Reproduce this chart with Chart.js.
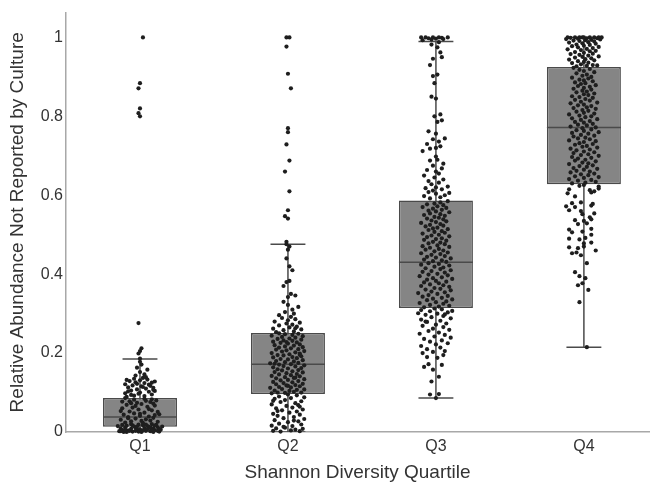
<!DOCTYPE html>
<html>
<head>
<meta charset="utf-8">
<script src="https://cdn.jsdelivr.net/npm/chart.js@4"></script>
<style>
  html, body { margin: 0; padding: 0; background: #fff; }
  #wrap { width: 653px; height: 488px; position: relative; }
</style>
</head>
<body>
<div id="wrap"><canvas id="chart"></canvas></div>
<script>
// categorias e estatisticas das caixas
const categories = ['Q1', 'Q2', 'Q3', 'Q4'];
const boxLower = [0.013, 0.096, 0.314, 0.628];
const boxUpper = [0.086, 0.251, 0.587, 0.925];
const medians = [0.038, 0.172, 0.430, 0.772];
const whiskerLow = [0, 0, 0.086, 0.215];
const whiskerHigh = [0.185, 0.476, 0.99, 1.0];
const yTickValues = [0, 0.2, 0.4, 0.6, 0.8, 1];

// pontos: [deslocamento horizontal (jitter), valor]
const q1Points = [
  [-0.14,0.002],[-0.11,0.0],[-0.08,0.004],[-0.05,0.001],[-0.02,0.006],[0.01,0.0],[0.04,0.003],[0.07,0.002],[0.1,0.005],[0.13,0.001],
  [-0.13,0.009],[-0.1,0.012],[-0.06,0.008],[-0.03,0.011],[0.0,0.007],[0.03,0.01],[0.06,0.013],[0.09,0.009],[0.12,0.012],[0.14,0.006],
  [-0.15,0.015],[-0.12,0.018],[-0.09,0.016],[-0.04,0.014],[-0.01,0.019],[0.02,0.017],[0.05,0.015],[0.08,0.02],[0.11,0.018],[0.15,0.014],
  [-0.07,0.003],[0.0,0.002],[0.05,0.007],[-0.12,0.005],[0.09,0.0],[-0.02,0.013],[0.12,0.003],[-0.09,0.0],[0.02,0.004],[-0.05,0.017],
  [0.07,0.011],[-0.13,0.002],[0.1,0.016],[-0.06,0.02],[0.13,0.008],[-0.01,0.001],[0.04,0.019],[-0.1,0.006],[0.08,0.005],[-0.03,0.003],
  [-0.1,0.024],[-0.06,0.027],[0.02,0.023],[0.07,0.029],[0.12,0.026],[-0.13,0.031],[-0.03,0.034],[0.04,0.032],[0.09,0.036],[-0.08,0.038],
  [0.0,0.041],[0.06,0.039],[-0.11,0.044],[-0.04,0.047],[0.1,0.043],[0.03,0.049],[-0.07,0.052],[0.08,0.055],[-0.01,0.057],[0.12,0.051],
  [-0.12,0.06],[-0.05,0.062],[0.05,0.064],[0.1,0.067],[-0.09,0.069],[0.01,0.071],[-0.02,0.074],[0.07,0.076],[-0.07,0.078],[0.11,0.08],
  [-0.04,0.082],[0.03,0.084],[-0.1,0.086],[0.06,0.058],[-0.13,0.053],[0.13,0.045],[-0.08,0.035],[0.01,0.028],[0.09,0.072],[-0.03,0.066],
  [-0.12,0.077],[0.04,0.079],[0.0,0.046],[-0.06,0.073],[0.08,0.083],
  [-0.09,0.089],[-0.04,0.092],[0.03,0.091],[0.08,0.095],[-0.1,0.098],[0.0,0.1],[0.06,0.102],[-0.06,0.105],[0.1,0.104],[-0.02,0.108],
  [0.04,0.11],[-0.08,0.113],[0.09,0.112],[0.01,0.116],[-0.05,0.118],[0.06,0.12],[-0.1,0.121],[0.03,0.124],[-0.03,0.126],[0.08,0.125],
  [-0.07,0.129],[0.0,0.131],[0.05,0.133],[-0.04,0.135],[0.02,0.137],[-0.09,0.132],[0.1,0.128],[-0.01,0.097],[0.07,0.117],[-0.06,0.094],
  [0.04,0.139],[-0.02,0.122],[0.09,0.107],[-0.08,0.103],[0.02,0.114],
  [-0.03,0.143],[0.03,0.146],[0.0,0.152],[0.05,0.158],[-0.02,0.163],[0.01,0.171],[0.0,0.178],[0.0,0.186],
  [-0.01,0.199],[0.0,0.205],[0.01,0.212],[-0.01,0.276],[0.0,0.8],[-0.01,0.808],[0.0,0.82],[-0.01,0.871],[0.0,0.884],[0.02,1.0]
];

const q2Points = [
  [-0.1,0.003],[-0.05,0.001],[0.02,0.004],[0.08,0.002],[-0.08,0.009],[0.05,0.006],[0.1,0.008],[-0.02,0.011],[-0.11,0.016],[0.03,0.015],
  [0.09,0.019],[-0.06,0.021],[0.0,0.025],[0.07,0.027],[-0.09,0.03],[0.11,0.033],[-0.03,0.035],[0.04,0.038],[-0.07,0.041],[0.08,0.044],
  [-0.1,0.046],[0.01,0.049],[0.06,0.052],[-0.04,0.055],[0.1,0.057],[-0.08,0.06],[0.03,0.062],[-0.01,0.066],[0.07,0.068],[-0.11,0.07],
  [0.05,0.073],[-0.05,0.076],[0.09,0.078],[-0.02,0.081],[-0.09,0.084],[0.02,0.086],[0.11,0.088],[-0.06,0.09],[0.06,0.093],[0.0,0.095],
  [-0.03,0.013],[0.04,0.029],[-0.07,0.053],[0.08,0.064],[-0.1,0.079],
  [-0.11,0.098],[-0.07,0.1],[-0.02,0.099],[0.04,0.102],[0.09,0.1],[-0.09,0.105],[0.01,0.104],[0.06,0.107],[-0.04,0.109],[0.11,0.108],
  [-0.12,0.112],[-0.06,0.114],[0.02,0.113],[0.08,0.116],[-0.01,0.118],[0.05,0.119],[-0.08,0.121],[0.1,0.122],[-0.03,0.124],[0.03,0.126],
  [-0.1,0.127],[0.07,0.129],[-0.05,0.131],[0.0,0.132],[0.11,0.134],[-0.08,0.136],[0.04,0.137],[-0.02,0.139],[0.08,0.141],[-0.11,0.142],
  [0.02,0.144],[-0.06,0.146],[0.06,0.147],[-0.01,0.149],[0.1,0.151],[-0.09,0.152],[0.03,0.154],[-0.04,0.156],[0.07,0.157],[-0.07,0.159],
  [0.0,0.161],[0.09,0.162],[-0.1,0.164],[0.05,0.166],[-0.03,0.167],[0.11,0.169],[-0.06,0.171],[0.02,0.172],[-0.12,0.174],[0.07,0.175],
  [-0.02,0.177],[0.04,0.179],[-0.08,0.18],[0.1,0.182],[0.0,0.184],[-0.05,0.185],[0.06,0.187],[-0.1,0.189],[0.03,0.19],[0.09,0.192],
  [-0.03,0.194],[-0.07,0.195],[0.01,0.197],[0.08,0.199],[-0.11,0.2],[0.05,0.202],[-0.04,0.204],[0.11,0.205],[-0.01,0.207],[-0.08,0.209],
  [0.07,0.21],[0.02,0.212],[-0.06,0.214],[0.1,0.215],[-0.02,0.217],[0.04,0.219],[-0.09,0.22],[0.08,0.222],[0.0,0.224],[-0.05,0.226],
  [0.06,0.227],[-0.1,0.229],[0.03,0.231],[-0.03,0.232],[0.09,0.234],[-0.07,0.236],[0.01,0.237],[0.05,0.239],[-0.04,0.241],[0.1,0.243],
  [-0.11,0.244],[0.03,0.246],[-0.02,0.248],[0.07,0.249],[-0.06,0.25],[0.0,0.117],[0.05,0.138],[-0.09,0.173],[0.08,0.196],[-0.01,0.228],
  [-0.08,0.253],[0.04,0.255],[-0.03,0.258],[0.09,0.26],[-0.1,0.262],[0.01,0.265],[0.06,0.267],[-0.06,0.27],[0.03,0.272],[-0.01,0.275],
  [0.08,0.277],[-0.09,0.28],[0.0,0.283],[0.05,0.286],[-0.04,0.289],[0.02,0.292],[-0.06,0.296],[0.04,0.3],[-0.02,0.304],[0.03,0.31],
  [0.07,0.317],[0.0,0.322],[-0.03,0.33],[0.05,0.263],
  [0.0,0.342],[0.05,0.346],[0.02,0.35],[-0.03,0.37],[-0.01,0.38],[0.01,0.383],[0.03,0.41],[0.01,0.42],[-0.01,0.44],[0.0,0.462],
  [0.01,0.47],[-0.01,0.476],
  [-0.01,0.482],[0.0,0.541],[-0.02,0.547],[0.0,0.562],[0.01,0.61],[-0.02,0.66],[0.01,0.688],[-0.01,0.729],[0.0,0.76],[0.0,0.77],
  [0.02,0.871],[0.0,0.908],[-0.01,0.977],[-0.01,1.0],[0.01,1.0]
];

const q3Points = [
  [0.0,0.086],[-0.04,0.095],[0.02,0.096],[-0.03,0.128],[-0.08,0.165],[-0.02,0.158],[0.04,0.17],[-0.05,0.172],[0.02,0.14],[0.01,0.188],
  [-0.06,0.19],[0.05,0.195],
  [-0.09,0.2],[-0.02,0.203],[0.06,0.205],[-0.06,0.21],[0.03,0.214],[-0.1,0.218],[0.0,0.222],[0.08,0.225],[-0.04,0.229],[0.04,0.232],
  [-0.08,0.236],[0.1,0.239],[-0.01,0.242],[0.06,0.246],[-0.11,0.249],[0.02,0.252],[-0.05,0.256],[0.09,0.259],[-0.02,0.262],[0.05,0.266],
  [-0.09,0.269],[0.0,0.272],[0.07,0.275],[-0.06,0.279],[0.03,0.282],[-0.1,0.285],[0.1,0.288],[-0.03,0.291],[0.05,0.294],[-0.07,0.297],
  [0.01,0.3],[0.08,0.303],[-0.04,0.306],[-0.1,0.309],[0.04,0.311],[-0.01,0.313],[0.11,0.307],[-0.12,0.301],[0.06,0.298],[-0.07,0.28],
  [-0.08,0.316],[0.02,0.318],[0.09,0.32],[-0.04,0.322],[0.05,0.325],[-0.11,0.327],[0.0,0.329],[0.07,0.331],[-0.06,0.334],[0.11,0.336],
  [-0.02,0.338],[0.04,0.34],[-0.09,0.343],[0.08,0.345],[-0.05,0.347],[0.01,0.35],[-0.12,0.352],[0.06,0.354],[-0.03,0.356],[0.1,0.359],
  [-0.07,0.361],[0.03,0.363],[-0.01,0.365],[0.09,0.368],[-0.1,0.37],[0.05,0.372],[-0.04,0.374],[0.02,0.377],[-0.08,0.379],[0.07,0.381],
  [0.0,0.383],[-0.06,0.386],[0.11,0.388],[-0.02,0.39],[0.04,0.392],[-0.11,0.395],[0.08,0.397],[-0.05,0.399],[0.01,0.401],[0.06,0.404],
  [-0.09,0.406],[-0.03,0.408],[0.1,0.41],[0.03,0.413],[-0.07,0.415],[0.05,0.417],[-0.01,0.419],[0.09,0.422],[-0.1,0.424],[0.02,0.426],
  [-0.05,0.428],[0.07,0.431],[-0.02,0.433],[0.04,0.435],[-0.08,0.437],[0.1,0.44],[0.0,0.442],[-0.06,0.444],[0.06,0.446],[-0.03,0.449],
  [0.03,0.451],[-0.1,0.453],[0.08,0.455],[-0.01,0.458],[0.05,0.46],[-0.07,0.462],[0.02,0.464],[-0.04,0.467],[0.09,0.469],[-0.09,0.471],
  [0.01,0.473],[0.06,0.476],[-0.05,0.478],[0.03,0.48],[-0.02,0.482],[0.07,0.485],[-0.08,0.487],[0.0,0.489],[0.04,0.491],[-0.06,0.494],
  [0.09,0.496],[-0.03,0.498],[0.02,0.5],[-0.09,0.503],[0.06,0.505],[-0.01,0.507],[0.04,0.509],[-0.05,0.512],[0.08,0.514],[-0.02,0.516],
  [0.01,0.518],[-0.07,0.521],[0.05,0.523],[-0.04,0.525],[0.03,0.527],[-0.1,0.53],[0.0,0.532],[0.07,0.534],[-0.03,0.536],[0.05,0.539],
  [-0.06,0.541],[0.02,0.543],[-0.01,0.545],[0.06,0.548],[-0.08,0.55],[0.03,0.552],[-0.04,0.554],[0.09,0.557],[0.0,0.559],[-0.05,0.561],
  [0.04,0.563],[-0.02,0.566],[0.07,0.568],[-0.09,0.57],[0.01,0.572],[0.05,0.575],[-0.06,0.577],[-0.01,0.579],[0.03,0.582],[0.08,0.585],
  [-0.04,0.592],[0.03,0.595],[-0.08,0.598],[0.06,0.6],[0.0,0.604],[-0.05,0.608],[0.09,0.606],[-0.02,0.612],[0.04,0.615],[-0.07,0.618],
  [0.0,0.62],[0.08,0.622],[-0.03,0.628],[0.02,0.632],[-0.05,0.636],[0.05,0.64],[-0.01,0.645],[-0.08,0.65],[0.02,0.655],[0.0,0.66],
  [-0.06,0.664],[0.04,0.668],[-0.02,0.675],[0.05,0.68],[-0.04,0.688],[0.01,0.69],[0.0,0.698],[-0.09,0.712],[-0.04,0.718],[0.0,0.72],
  [0.03,0.724],[-0.06,0.73],[0.02,0.736],[-0.02,0.742],[0.06,0.744],[0.0,0.756],[-0.05,0.762],[0.01,0.786],[0.04,0.79],[-0.01,0.8],
  [0.03,0.805],[0.0,0.845],[-0.03,0.85],[-0.01,0.884],[-0.02,0.902],[0.01,0.906],[-0.04,0.93],[-0.02,0.946],[0.04,0.95],[0.03,0.962],
  [0.01,0.975],[-0.03,0.982],[0.02,0.988],[-0.09,0.993],
  [-0.07,1.0],[-0.05,0.998],[-0.02,1.0],[0.0,0.997],[0.02,1.0],[0.04,0.999],[0.08,1.0],[-0.1,1.0],[0.05,0.996],[-0.03,0.995]
];

const q4Points = [
  [0.02,0.215],[-0.03,0.329],[0.03,0.36],[-0.04,0.372],[-0.01,0.377],[0.01,0.39],[-0.03,0.395],[-0.06,0.405],[0.02,0.428],[-0.02,0.448],
  [-0.08,0.453],[-0.05,0.455],[0.08,0.46],[-0.1,0.468],[-0.04,0.466],[0.0,0.47],[0.0,0.478],[0.05,0.48],[-0.1,0.49],[-0.03,0.488],
  [0.01,0.492],[0.05,0.5],[-0.08,0.506],[-0.01,0.508],[-0.1,0.513],[0.05,0.515],[0.02,0.529],[-0.04,0.527],[-0.06,0.537],[0.0,0.535],
  [0.05,0.539],[0.04,0.544],[0.07,0.554],[-0.01,0.552],[-0.1,0.562],[-0.02,0.56],[-0.12,0.572],[-0.06,0.57],[0.05,0.574],[-0.08,0.58],
  [-0.02,0.582],[0.06,0.578],[-0.06,0.597],[-0.11,0.605],[0.05,0.607],[-0.1,0.615],[0.04,0.613],[0.1,0.617],[0.1,0.622],[-0.03,0.624],
  [0.0,0.626],[0.07,0.61],
  [-0.08,0.63],[0.01,0.632],[0.08,0.634],[-0.04,0.637],[0.05,0.639],[-0.1,0.641],[0.0,0.644],[0.1,0.646],[-0.06,0.648],[0.03,0.651],
  [-0.02,0.653],[0.07,0.655],[-0.09,0.658],[0.04,0.66],[-0.05,0.662],[0.0,0.665],[0.09,0.667],[-0.07,0.669],[0.02,0.672],[-0.03,0.674],
  [0.06,0.676],[-0.1,0.679],[0.03,0.681],[-0.01,0.683],[0.08,0.686],[-0.06,0.688],[0.01,0.69],[-0.04,0.693],[0.05,0.695],[-0.08,0.697],
  [0.1,0.7],[-0.02,0.702],[0.03,0.704],[-0.07,0.707],[0.07,0.709],[0.0,0.711],[-0.05,0.714],[0.04,0.716],[-0.09,0.718],[0.09,0.721],
  [-0.01,0.723],[0.02,0.725],[-0.06,0.728],[0.06,0.73],[-0.03,0.732],[0.0,0.735],[0.08,0.737],[-0.1,0.739],[0.04,0.742],[-0.04,0.744],
  [0.01,0.746],[-0.07,0.749],[0.07,0.751],[-0.02,0.753],[0.03,0.756],[-0.08,0.758],[0.1,0.76],[0.0,0.763],[-0.05,0.765],[0.05,0.767],
  [-0.01,0.77],[0.08,0.772],[-0.09,0.774],[0.02,0.777],[-0.04,0.779],[0.06,0.781],[0.0,0.784],[-0.06,0.786],[0.04,0.788],[-0.02,0.791],
  [0.09,0.793],[-0.08,0.795],[0.01,0.798],[0.05,0.8],[-0.03,0.802],[-0.1,0.805],[0.07,0.807],[0.0,0.809],[-0.05,0.812],[0.03,0.814],
  [-0.01,0.816],[0.08,0.819],[-0.07,0.821],[0.02,0.823],[0.05,0.826],[-0.04,0.828],[0.0,0.83],[-0.09,0.833],[0.09,0.835],[-0.02,0.837],
  [0.04,0.84],[-0.06,0.842],[0.01,0.844],[0.06,0.847],[-0.03,0.849],[-0.08,0.851],[0.03,0.854],[0.0,0.856],[0.07,0.858],[-0.05,0.861],
  [0.02,0.863],[-0.01,0.865],[0.05,0.868],[-0.07,0.87],[0.0,0.872],[0.04,0.875],[-0.04,0.877],[0.08,0.879],[-0.02,0.882],[0.01,0.884],
  [-0.06,0.886],[0.06,0.889],[0.0,0.891],[-0.03,0.893],[0.03,0.896],[-0.08,0.898],[0.05,0.9],[-0.01,0.903],[0.02,0.906],[-0.05,0.909],
  [0.07,0.912],[0.0,0.915],[-0.03,0.918],[0.04,0.92],[-0.07,0.923],
  [-0.05,0.927],[0.02,0.928],[0.06,0.93],[-0.02,0.932],[0.09,0.929],[-0.08,0.935],[0.03,0.936],[0.0,0.938],[-0.04,0.94],[0.07,0.942],
  [-0.1,0.944],[0.01,0.945],[0.05,0.947],[-0.06,0.949],[-0.01,0.951],[0.1,0.952],[0.03,0.954],[-0.03,0.956],[-0.09,0.958],[0.06,0.959],
  [0.0,0.961],[-0.06,0.963],[0.04,0.965],[0.08,0.966],[-0.02,0.968],[-0.11,0.97],[0.02,0.971],[0.06,0.973],[-0.04,0.975],[0.1,0.976],
  [-0.08,0.978],[0.0,0.979],[0.04,0.981],[-0.05,0.982],[0.08,0.984],[-0.01,0.985],[-0.1,0.987],[0.03,0.988],[0.07,0.99],[-0.03,0.991],
  [-0.07,0.992],[0.01,0.993],[0.05,0.994],[0.11,0.995],[-0.12,0.996],[-0.04,0.997],[0.02,0.998],[0.09,0.998],[-0.09,0.999],[-0.01,1.0],
  [0.04,1.0],[0.07,1.0],[-0.06,1.0],[0.12,1.0],[-0.11,1.0],[0.0,1.0],[-0.03,1.0],[0.1,1.0]
];

const groupPoints = [q1Points, q2Points, q3Points, q4Points];

const FONT = "'Liberation Sans', Arial, sans-serif";
const TEXT_COLOR = '#333';
const AXIS_COLOR = '#a8a8a8';
const LINE_COLOR = '#4a4a4a';
const CAP_HALF = 0.118;
const BOX_HALF = 0.25;

// monta os dados para o Chart.js
const scatterData = [];
groupPoints.forEach((pts, i) => {
    pts.forEach(p => scatterData.push({ x: i + 1 + p[0], y: p[1] }));
});

const boxData = categories.map((c, i) => ({ x: i + 1, y: [boxLower[i], boxUpper[i]] }));

const whiskerData = [];
categories.forEach((c, i) => {
    const x = i + 1;
    whiskerData.push({ x: x, y: whiskerLow[i] }, { x: x, y: whiskerHigh[i] }, { x: x, y: null });
    whiskerData.push({ x: x - CAP_HALF, y: whiskerHigh[i] }, { x: x + CAP_HALF, y: whiskerHigh[i] }, { x: x, y: null });
    whiskerData.push({ x: x - CAP_HALF, y: whiskerLow[i] }, { x: x + CAP_HALF, y: whiskerLow[i] }, { x: x, y: null });
});

const medianData = [];
categories.forEach((c, i) => {
    medianData.push({ x: i + 1 - BOX_HALF, y: medians[i] }, { x: i + 1 + BOX_HALF, y: medians[i] }, { x: i + 1, y: null });
});

new Chart(document.getElementById('chart'), {
    type: 'scatter',
    data: {
        datasets: [
            {
                type: 'scatter',
                data: scatterData,
                backgroundColor: '#1e1e1e',
                borderWidth: 0,
                pointRadius: 2.1,
                clip: false,
                order: 0
            },
            {
                type: 'line',
                data: medianData,
                borderColor: LINE_COLOR,
                borderWidth: 1.5,
                pointRadius: 0,
                spanGaps: false,
                order: 1
            },
            {
                type: 'bar',
                data: boxData,
                backgroundColor: '#858585',
                borderColor: LINE_COLOR,
                borderWidth: 1.5,
                borderSkipped: false,
                barPercentage: 0.5,
                categoryPercentage: 1,
                order: 2
            },
            {
                type: 'line',
                data: whiskerData,
                borderColor: LINE_COLOR,
                borderWidth: 1.5,
                pointRadius: 0,
                spanGaps: false,
                order: 3
            }
        ]
    },
    options: {
        responsive: true,
        maintainAspectRatio: false,
        animation: false,
        layout: { padding: { top: 12, right: 0, left: 0, bottom: 0 } },
        plugins: { legend: { display: false }, tooltip: { enabled: false } },
        scales: {
            x: {
                type: 'linear',
                offset: false,
                min: 0.5,
                max: 4.44,
                grid: { display: false, drawTicks: false, offset: false },
                border: { display: true, color: AXIS_COLOR, width: 1.5 },
                afterBuildTicks: s => { s.ticks = categories.map((c, i) => ({ value: i + 1 })); },
                afterFit: s => { s.height = 56; },
                ticks: {
                    color: TEXT_COLOR,
                    font: { family: FONT, size: 16 },
                    padding: 5,
                    autoSkip: false,
                    maxRotation: 0,
                    callback: v => categories[Math.round(v) - 1]
                },
                title: {
                    display: true,
                    text: 'Shannon Diversity Quartile',
                    color: TEXT_COLOR,
                    font: { family: FONT, size: 19 },
                    padding: { top: 4, bottom: 4 }
                }
            },
            y: {
                min: 0,
                max: 1.063,
                grid: { display: false, drawTicks: false },
                border: { display: true, color: AXIS_COLOR, width: 1.5 },
                afterBuildTicks: s => { s.ticks = yTickValues.map(v => ({ value: v })); },
                afterFit: s => { s.width = 66; },
                ticks: {
                    color: TEXT_COLOR,
                    font: { family: FONT, size: 16 },
                    padding: 3,
                    callback: v => String(v)
                },
                title: {
                    display: true,
                    text: 'Relative Abundance Not Reported by Culture',
                    color: TEXT_COLOR,
                    font: { family: FONT, size: 19 },
                    padding: { top: 6, bottom: 0 }
                }
            }
        }
    }
});
</script>
</body>
</html>
